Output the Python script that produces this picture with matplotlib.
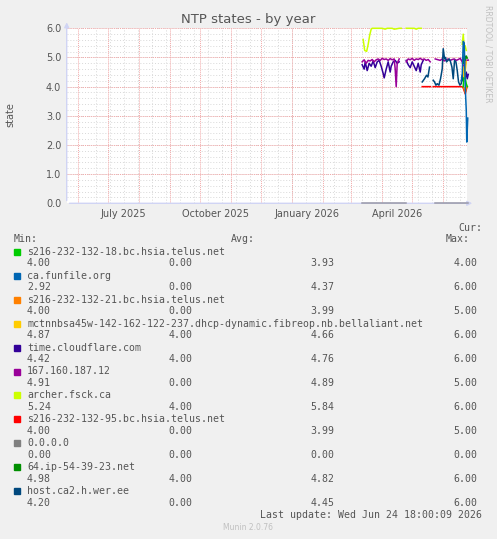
import matplotlib
matplotlib.use("Agg")
import matplotlib.pyplot as plt
import numpy as np

# ── data (days since 2026-01-01, values; nan = gap) ──
archer_day = [71, 72.5, 74.5, 76, 77.5, 79, 80, 85, 90, 93, 95, 100, 102, 104, 107, 109, 110,
              114, 118, 122, 124, 126, 129, 130,
              170, 171, 172, 173, 174]
archer_val = [5.62, 5.24, 5.21, 5.45, 5.76, 5.97, 6.0, 6.0, 6.0, 5.97, 6.0, 6.0, 5.97, 5.98, 6.0, 6.0, np.nan,
              6.0, 6.0, 6.0, 5.97, 6.0, 6.0, np.nan,
              5.45, 5.8, 5.3, 5.4, 5.24]

p167_day = [70, 72, 74, 76, 78, 80, 82, 84, 86, 88, 90, 92, 94, 96, 98, 100, 102, 103, 104, 105, 107, 108,
            114, 116, 118, 120, 122, 124, 126, 128, 130, 132, 134, 136, 138, 139,
            143, 146, 148, 150, 152, 154, 156, 158, 160, 162, 164, 166, 168, 170, 172, 174, 176]
p167_val = [4.85, 4.92, 4.80, 4.90, 4.88, 4.93, 4.85, 4.92, 4.95, 4.90, 4.97, 4.93, 4.95, 4.90, 4.96, 4.92, 4.95, 4.6, 4.0, 4.8, 4.95, np.nan,
            4.85, 4.95, 4.92, 4.97, 4.90, 4.95, 4.93, 4.97, 4.92, 4.95, 4.90, 4.93, 4.85, np.nan,
            4.95, 4.92, 4.90, 4.95, 4.88, 4.92, 4.95, 4.90, 4.93, 4.95, 4.90, 4.93, 4.97, 4.85, 4.6, 4.9, 4.91]

cloudflare_day = [70, 72, 73, 75, 77, 79, 81, 83, 85, 87, 89, 91, 92, 94, 96, 98, 99, 101, 103, 105, 107, 108,
                  114, 116, 118, 120, 122, 124, 126, 128, 129, 131, 132,
                  172, 173, 174, 175, 176]
cloudflare_val = [4.75, 4.6, 4.85, 4.55, 4.8, 4.7, 4.88, 4.65, 4.85, 4.9, 4.7, 4.45, 4.3, 4.6, 4.85, 4.5, 4.7, 4.85, 4.9, 4.8, 4.85, np.nan,
                  4.9, 4.75, 4.65, 4.85, 4.7, 4.55, 4.8, 4.5, 4.75, 4.9, np.nan,
                  4.6, 4.3, 4.5, 4.27, 4.42]

wer_day = [130, 132.3, 134.3, 135.7, 137.3, 138.3, 141, 142.3, 143.7, 145, 146.7, 148.3, 150, 151, 152.3,
           153.3, 154.3, 155.7, 157, 158.3, 159.7, 161, 162.3, 163.7, 165, 166.3, 167.7, 169, 170, 171]
wer_val = [4.16, 4.27, 4.39, 4.33, 4.67, np.nan, 4.22, 4.16, 4.05, 4.1, 4.05, 4.27, 4.61, 5.3, 4.95,
           5.0, 4.85, 4.9, 4.95, 4.85, 4.67, 4.27, 4.9, 4.85, 4.55, 4.16, 4.05, 4.1, 4.4, 4.2]

funfile_day = [169, 170, 171, 172, 173, 174, 174.5, 175.5]
funfile_val = [4.2, 4.4, 5.55, 5.5, 4.0, 3.2, 2.1, 2.92]

telus95_day = [130, 134, 138.3, 139, 141, 150, 160, 170, 171, 172, 173, 174, 175]
telus95_val = [4.0, 4.0, 4.0, np.nan, 4.0, 4.0, 4.0, 4.0, 3.95, 3.85, 3.75, 3.9, 4.0]

telus21_day = [171, 172, 173, 174, 175]
telus21_val = [4.0, 3.9, 3.8, 3.95, 4.0]

telus18_day = [171, 172, 173, 174, 175]
telus18_val = [4.0, 4.6, 4.3, 4.1, 4.0]

mctn_day = [171, 171.5, 172, 172.5, 173, 174]
mctn_val = [4.67, 4.4, 4.33, 4.6, 4.5, 4.87]

ip64_day = [171, 172, 173, 174, 175]
ip64_val = [4.8, 5.1, 4.9, 5.05, 4.98]

zero_day = [70, 108, 114, 139, 143, 176]
zero_val = [0.0, 0.0, 0.0, np.nan, 0.0, 0.0]

legend_names = ["s216-232-132-18.bc.hsia.telus.net", "ca.funfile.org", "s216-232-132-21.bc.hsia.telus.net",
                "mctnnbsa45w-142-162-122-237.dhcp-dynamic.fibreop.nb.bellaliant.net", "time.cloudflare.com",
                "167.160.187.12", "archer.fsck.ca", "s216-232-132-95.bc.hsia.telus.net", "0.0.0.0",
                "64.ip-54-39-23.net", "host.ca2.h.wer.ee"]
legend_colors = ["#00CC00", "#0066B3", "#FF8000", "#FFCC00", "#330099", "#990099", "#CCFF00",
                 "#FF0000", "#808080", "#008F00", "#00487D"]
stat_cur = ["4.00", "2.92", "4.00", "4.87", "4.42", "4.91", "5.24", "4.00", "0.00", "4.98", "4.20"]
stat_min = ["0.00", "0.00", "0.00", "4.00", "4.00", "0.00", "4.00", "0.00", "0.00", "4.00", "0.00"]
stat_avg = ["3.93", "4.37", "3.99", "4.66", "4.76", "4.89", "5.84", "3.99", "0.00", "4.82", "4.45"]
stat_max = ["4.00", "6.00", "5.00", "6.00", "6.00", "5.00", "6.00", "5.00", "0.00", "6.00", "6.00"]

xlabels = ["July 2025", "October 2025", "January 2026", "April 2026"]
xlabel_days = [-169, -77, 15, 105]   # mid-month label positions

W, H = 497, 539
BG = "#F0F0F0"
TXT = "#555555"
MONO = "DejaVu Sans Mono"

fig = plt.figure(figsize=(W / 100, H / 100), dpi=100, facecolor=BG)
px = lambda x0, y0, x1, y1: [x0 / W, 1 - y1 / H, (x1 - x0) / W, (y1 - y0) / H]
ax = fig.add_axes(px(66.7, 28.3, 467, 203.3), facecolor="white")

x_end = 174.75
x_start = x_end - 400
ax.set_xlim(x_start, x_end)
ax.set_ylim(0, 6)

# grid: minor grey, major red, both dotted
dot = (0, (1, 2))
for y in np.arange(0, 6.01, 0.2):
    ax.axhline(y, color="#D8D8D8", lw=0.7, ls=dot, zorder=1)
for d in np.arange(-196, x_end, 14):   # fortnightly, Mondays
    ax.axvline(d, color="#D8D8D8", lw=0.7, ls=dot, zorder=1)
month_starts = [-214, -184, -153, -122, -92, -61, -31, 0, 31, 59, 90, 120, 151]
for d in month_starts:
    ax.axvline(d, color="#F2A8A8", lw=0.7, ls=(0, (1, 1)), zorder=2)
for y in range(0, 7):
    ax.axhline(y, color="#F2A8A8", lw=0.7, ls=(0, (1, 1)), zorder=2)

series = [
    (zero_day, zero_val, "#9A9AA8"),
    (archer_day, archer_val, "#CCFF00"),
    (cloudflare_day, cloudflare_val, "#330099"),
    (p167_day, p167_val, "#990099"),
    (telus95_day, telus95_val, "#FF0000"),
    (wer_day, wer_val, "#00487D"),
    (telus21_day, telus21_val, "#FF8000"),
    (telus18_day, telus18_val, "#00CC00"),
    (mctn_day, mctn_val, "#FFCC00"),
    (ip64_day, ip64_val, "#008F00"),
    (funfile_day, funfile_val, "#0066B3"),
]
for d, v, c in series:
    ax.plot(d, v, color=c, lw=1.1, zorder=4, clip_on=False)

for s in ax.spines.values():
    s.set_visible(False)
ax.set_yticks(range(0, 7))
ax.set_yticklabels([f"{v:.1f}" for v in range(0, 7)])
ax.set_xticks(xlabel_days)
ax.set_xticklabels(xlabels)
ax.tick_params(length=0, labelsize=7, colors=TXT, pad=4)

# axes with arrows
axc = "#D0D4F4"
ax.annotate("", xy=(0, 1.05), xytext=(0, 0), xycoords="axes fraction",
            arrowprops=dict(arrowstyle="-|>", color=axc, lw=1, mutation_scale=7), annotation_clip=False)
ax.annotate("", xy=(1.02, 0), xytext=(0, 0), xycoords="axes fraction",
            arrowprops=dict(arrowstyle="-|>", color=axc, lw=1, mutation_scale=7), annotation_clip=False)

fig.text(248 / W, 1 - 19 / H, "NTP states - by year", ha="center", va="center", fontsize=9.5, color=TXT)
fig.text(10 / W, 1 - 115 / H, "state", ha="center", va="center", rotation=90, fontsize=7, color=TXT)
fig.text(488 / W, 1 - 5 / H, "RRDTOOL / TOBI OETIKER", ha="center", va="top", rotation=270,
         fontsize=5.5, color="#C0C0C0")

# legend block
fs = 7.1
fig.text(482 / W, 1 - 228.3 / H, "Cur:", ha="right", va="center", family=MONO, fontsize=fs, color=TXT)
fig.text(14 / W, 1 - 239.3 / H, "Min:", ha="left", va="center", family=MONO, fontsize=fs, color=TXT)
fig.text(230.7 / W, 1 - 239.3 / H, "Avg:", ha="left", va="center", family=MONO, fontsize=fs, color=TXT)
fig.text(470 / W, 1 - 239.3 / H, "Max:", ha="right", va="center", family=MONO, fontsize=fs, color=TXT)
for i, name in enumerate(legend_names):
    yl = 251.7 + i * 23.96
    yv = yl + 11.7
    fig.patches.append(plt.Rectangle((14 / W, 1 - (yl + 3) / H), 6 / W, 6 / H,
                                     transform=fig.transFigure, color=legend_colors[i], figure=fig))
    fig.text(27 / W, 1 - yl / H, name, ha="left", va="center", family=MONO, fontsize=fs, color=TXT)
    for xv, val in zip([27, 168.3, 310.7, 453.3], [stat_cur[i], stat_min[i], stat_avg[i], stat_max[i]]):
        fig.text(xv / W, 1 - yv / H, val, ha="left", va="center", family=MONO, fontsize=fs, color=TXT)

fig.text(482.5 / W, 1 - 515.3 / H, "Last update: Wed Jun 24 18:00:09 2026", ha="right", va="center",
         family=MONO, fontsize=fs, color=TXT)
fig.text(248 / W, 1 - 527.7 / H, "Munin 2.0.76", ha="center", va="center", fontsize=5.5, color="#C0C0C0")

fig.savefig("out.png", dpi=100, facecolor=BG)
